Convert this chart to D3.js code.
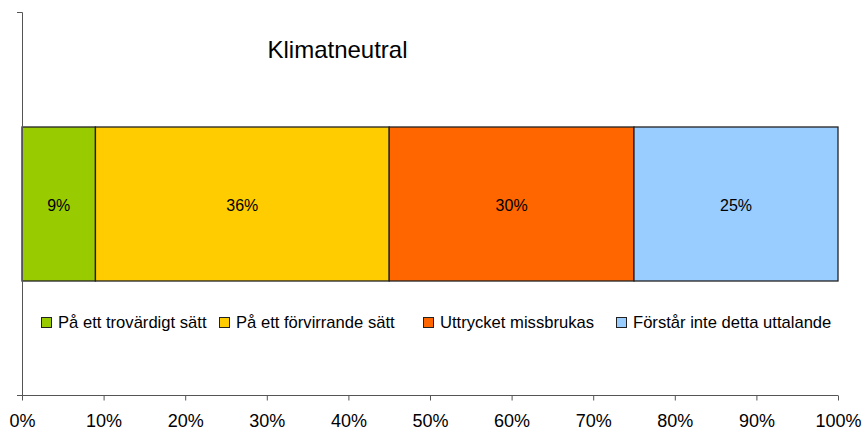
<!DOCTYPE html>
<html>
<head>
<meta charset="utf-8">
<script src="https://cdn.jsdelivr.net/npm/d3@7"></script>
<style>
  body { margin: 0; background: #fff; overflow: hidden; }
  text { font-family: "Liberation Sans", Arial, sans-serif; }
</style>
</head>
<body>
<div class="chart"></div>
<script>
const WIDTH = 865, HEIGHT = 431;

const categories = ["På ett trovärdigt sätt", "På ett förvirrande sätt", "Uttrycket missbrukas", "Förstår inte detta uttalande"];
const values = [9, 36, 30, 25];
const colors = ["#99cc00", "#ffcc00", "#ff6600", "#99ccff"];
const ticks = [0, 10, 20, 30, 40, 50, 60, 70, 80, 90, 100];
const title = "Klimatneutral";

const x = d3.scaleLinear().domain([0, 100]).range([22, 838]);

var svg = d3.select(".chart")
  .append("svg")
  .attr("width", WIDTH)
  .attr("height", HEIGHT)
  .style("display", "block");

// stacked segments
let acc = 0;
const segs = values.map((v, i) => {
  const s = { name: categories[i], value: v, x0: acc, x1: acc + v, color: colors[i] };
  acc += v;
  return s;
});

const barTop = 127, barH = 154;

svg.selectAll("rect.seg")
  .data(segs)
  .enter()
  .append("rect")
  .attr("class", "seg")
  .attr("x", d => x(d.x0))
  .attr("y", barTop)
  .attr("width", d => x(d.x1) - x(d.x0))
  .attr("height", barH)
  .attr("fill", d => d.color)
  .attr("stroke", "#222")
  .attr("stroke-width", 1.3);

svg.selectAll("text.val")
  .data(segs)
  .enter()
  .append("text")
  .attr("x", d => x((d.x0 + d.x1) / 2))
  .attr("y", 211)
  .attr("text-anchor", "middle")
  .style("font-size", "16px")
  .text(d => d.value + "%");

// axes
const xAxis = d3.axisBottom(x)
  .tickValues(ticks)
  .tickFormat(d => d + "%")
  .tickSize(5)
  .tickSizeOuter(0);

const gx = svg.append("g")
  .attr("transform", "translate(0,395.5)")
  .call(xAxis);
gx.select(".domain").attr("stroke", "#555").attr("d", "M17,0H838");
gx.selectAll(".tick line").attr("stroke", "#555");
gx.selectAll(".tick text")
  .attr("y", 31)
  .attr("dy", null)
  .attr("fill", "#000")
  .style("font-size", "18px")
  .style("font-family", "Liberation Sans, Arial, sans-serif");

svg.append("path")
  .attr("d", "M17,12.5H22.5V400")
  .attr("fill", "none")
  .attr("stroke", "#555");

// title
svg.append("text")
  .attr("x", 337.5)
  .attr("y", 58)
  .attr("text-anchor", "middle")
  .style("font-size", "24px")
  .text(title);

// legend
const legendX = [41, 219, 423, 616];
const lg = svg.selectAll("g.leg")
  .data(segs)
  .enter()
  .append("g")
  .attr("transform", (d, i) => `translate(${legendX[i]},317)`);

lg.append("rect")
  .attr("x", 0.5)
  .attr("y", 0.5)
  .attr("width", 10)
  .attr("height", 10)
  .attr("fill", d => d.color)
  .attr("stroke", "#222");

lg.append("text")
  .attr("x", 17)
  .attr("y", 11)
  .style("font-size", "16.6px")
  .text(d => d.name);
</script>
</body>
</html>
